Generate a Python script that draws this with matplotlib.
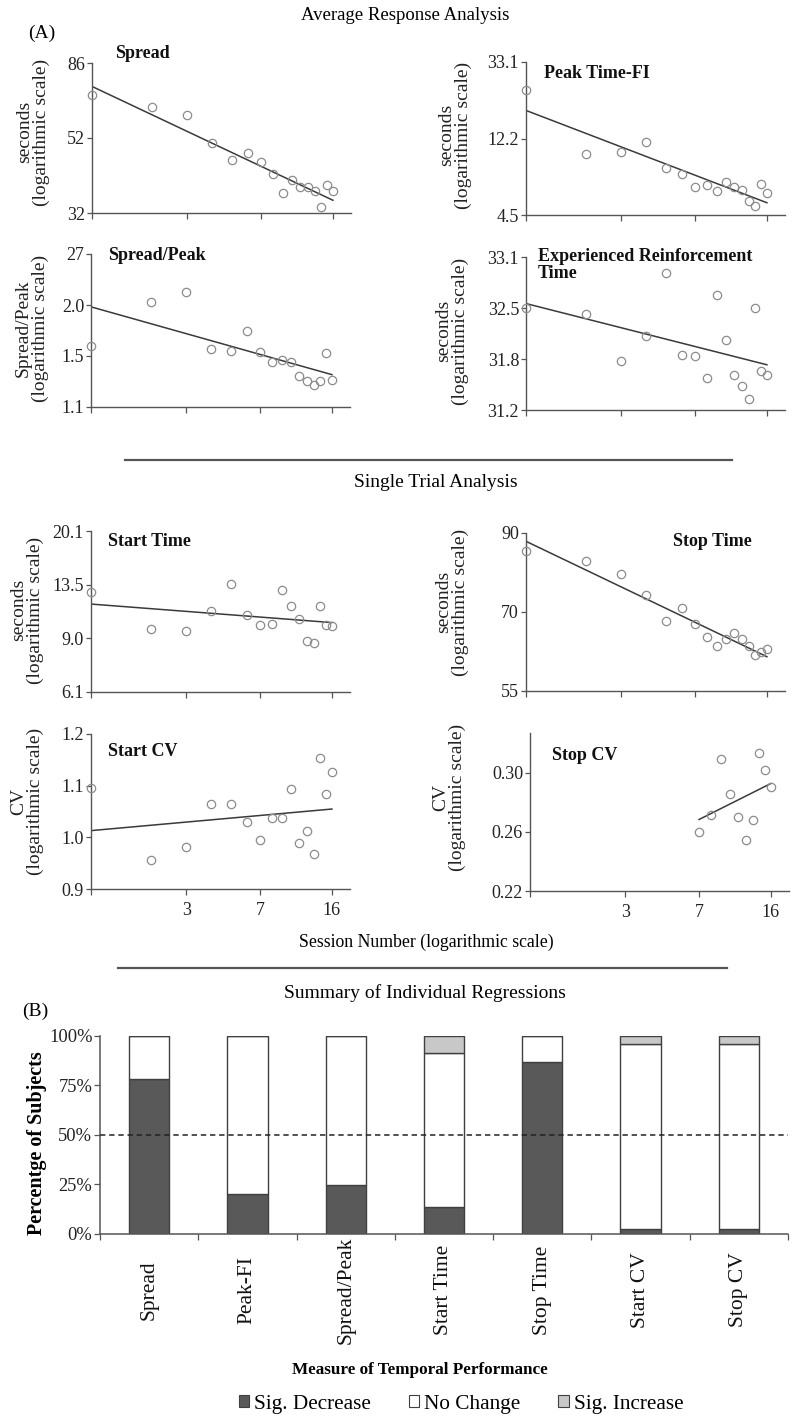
import numpy as np
import matplotlib
matplotlib.use('Agg')
import matplotlib.pyplot as plt
from matplotlib import transforms
from matplotlib.lines import Line2D
from matplotlib.patches import Patch

plt.rcParams['font.family'] = ['Liberation Serif', 'DejaVu Serif']

W, H = 800, 1423

# --- values ---
sessions = list(range(1, 17))
stop_cv_sessions = list(range(7, 17))

spread = [69.8, 64.2, 61.2, 50.8, 45.5, 47.5, 44.7, 41.4, 36.5, 39.7, 37.9, 38.1, 37.1, 33.4, 38.6, 36.9]
peak_fi = [23.1, 9.95, 10.3, 11.7, 8.26, 7.64, 6.5, 6.62, 6.18, 6.94, 6.5, 6.23, 5.4, 5.08, 6.71, 5.97]
spread_peak = [1.57, 2.04, 2.16, 1.55, 1.53, 1.72, 1.52, 1.43, 1.45, 1.43, 1.32, 1.28, 1.25, 1.28, 1.51, 1.29]
exp_reinf = [32.45, 32.38, 31.80, 32.11, 32.89, 31.87, 31.86, 31.59, 32.62, 32.06, 31.62, 31.49, 31.33, 32.46, 31.67, 31.62]
start_time = [12.8, 9.75, 9.58, 11.14, 13.6, 10.8, 10.0, 10.1, 12.95, 11.5, 10.5, 8.9, 8.79, 11.56, 10.0, 9.92]
stop_time = [85.0, 82.5, 79.3, 74.1, 68.5, 71.3, 67.8, 65.1, 63.3, 64.6, 65.8, 64.6, 63.3, 61.5, 62.2, 62.6]
start_cv = [1.085, 0.950, 0.973, 1.054, 1.053, 1.020, 0.986, 1.026, 1.026, 1.083, 0.980, 1.002, 0.961, 1.147, 1.073, 1.119]
stop_cv = [0.2565, 0.2682, 0.311, 0.2834, 0.2668, 0.2513, 0.2651, 0.316, 0.302, 0.2889]

# regression line end values (first session, last session)
spread_fit = [73.7, 34.8]
peak_fi_fit = [17.6, 5.28]
spread_peak_fit = [1.98, 1.33]
exp_reinf_fit = [32.51, 31.75]
start_time_fit = [11.7, 10.2]
stop_time_fit = [87.7, 61.2]
start_cv_fit = [1.003, 1.044]
stop_cv_fit = [0.2654, 0.2917]

# y tick labels (ticks evenly spaced on the log axis)
spread_ticks = ['32', '52', '86']
peak_fi_ticks = ['4.5', '12.2', '33.1']
spread_peak_ticks = ['1.1', '1.5', '2.0', '27']
exp_reinf_ticks = ['31.2', '31.8', '32.5', '33.1']
start_time_ticks = ['6.1', '9.0', '13.5', '20.1']
stop_time_ticks = ['55', '70', '90']
start_cv_ticks = ['0.9', '1.0', '1.1', '1.2']
stop_cv_ticks = ['0.22', '0.26', '0.30']

session_ticks = [1, 3, 7, 16]
session_labels = ['', '3', '7', '16']

measures = ['Spread', 'Peak-FI', 'Spread/Peak', 'Start Time', 'Stop Time', 'Start CV', 'Stop CV']
sig_decrease = [78.0, 20.0, 24.7, 13.4, 86.7, 2.7, 2.7]
no_change = [22.0, 80.0, 75.3, 78.0, 13.3, 93.1, 93.1]
sig_increase = [0.0, 0.0, 0.0, 8.6, 0.0, 4.2, 4.2]

AX_COL = '#555555'
PT_COL = '#8c8c8c'
LINE_COL = '#3a3a3a'


def fx(x):
    return x / W


def fy(y):
    return 1 - y / H


def px_axes(fig, left, top, right, bottom):
    return fig.add_axes([left / W, 1 - bottom / H, (right - left) / W, (bottom - top) / H])


def scatter_panel(fig, box, xs, ys, fit_x, fit_y, ylo, yhi, tick_labels, tick_top=None,
                  title='', title_xy=(0, 0), ylabel='', ylabel_xy=(0, 0), title_va='center',
                  show_x=False):
    left, top, bottom = box
    ax = px_axes(fig, left, top, left + 259, bottom)
    ax.set_xscale('log')
    ax.set_yscale('log')
    ax.set_xlim(1, 19.7)
    ax.set_ylim(ylo, yhi)
    ax.plot(fit_x, fit_y, color=LINE_COL, lw=1.1, zorder=2)
    ax.plot(xs, ys, 'o', ms=6, mfc='none', mec=PT_COL, mew=0.9, zorder=3, clip_on=False)

    t_hi = yhi if tick_top is None else tick_top
    yt = np.geomspace(ylo, t_hi, len(tick_labels))
    ax.yaxis.set_major_locator(matplotlib.ticker.FixedLocator(yt))
    ax.yaxis.set_minor_locator(matplotlib.ticker.NullLocator())
    ax.set_yticklabels(tick_labels)
    ax.xaxis.set_major_locator(matplotlib.ticker.FixedLocator(session_ticks))
    ax.xaxis.set_minor_locator(matplotlib.ticker.NullLocator())
    ax.set_xticklabels(session_labels if show_x else [''] * len(session_ticks))

    for s in ['top', 'right']:
        ax.spines[s].set_visible(False)
    for s in ['left', 'bottom']:
        ax.spines[s].set_color(AX_COL)
        ax.spines[s].set_linewidth(1.0)
    ax.tick_params(axis='y', direction='out', length=3.5, width=0.9, color=AX_COL,
                   labelsize=13, pad=1.5, labelcolor='#222222')
    ax.tick_params(axis='x', direction='out', length=4.5, width=0.9, color=AX_COL,
                   labelsize=13, pad=5, labelcolor='#222222')
    ax.patch.set_alpha(0)

    fig.text(fx(title_xy[0]), fy(title_xy[1]), title, fontsize=13, fontweight='bold',
             ha='left', va=title_va, linespacing=1.0, color='#111111')
    fig.text(fx(ylabel_xy[0]), fy(ylabel_xy[1]), ylabel, fontsize=14, rotation=90,
             ha='center', va='center', multialignment='center', linespacing=0.95,
             color='#222222')
    return ax


fig = plt.figure(figsize=(W / 100, H / 100), dpi=100)

# --- (A) Average Response Analysis ---
fig.text(fx(405), fy(15), 'Average Response Analysis', fontsize=13.5, ha='center', va='center')
fig.text(fx(42), fy(33), '(A)', fontsize=14, ha='center', va='center')

sec_label = 'seconds\n(logarithmic scale)'
scatter_panel(fig, (92, 63, 213), sessions, spread, [1, 16], spread_fit, 32, 86, spread_ticks,
              title='Spread', title_xy=(115, 53), ylabel=sec_label, ylabel_xy=(33, 132))
scatter_panel(fig, (526, 62, 215), sessions, peak_fi, [1, 16], peak_fi_fit, 4.5, 33.1, peak_fi_ticks,
              title='Peak Time-FI', title_xy=(544, 73), ylabel=sec_label, ylabel_xy=(455, 135))
scatter_panel(fig, (91, 254, 407), sessions, spread_peak, [1, 16], spread_peak_fit, 1.1, 2.7,
              spread_peak_ticks, title='Spread/Peak', title_xy=(108, 255),
              ylabel='Spread/Peak\n(logarithmic scale)', ylabel_xy=(32, 328))
scatter_panel(fig, (526, 257, 410), sessions, exp_reinf, [1, 16], exp_reinf_fit, 31.2, 33.1,
              exp_reinf_ticks, title='Experienced Reinforcement\nTime', title_xy=(538, 265),
              ylabel=sec_label, ylabel_xy=(452, 331))

fig.add_artist(Line2D([fx(125), fx(732)], [fy(460), fy(460)], color=AX_COL, lw=1.6))
fig.text(fx(436), fy(482), 'Single Trial Analysis', fontsize=14, ha='center', va='center')

# --- Single Trial Analysis ---
scatter_panel(fig, (91, 531, 692), sessions, start_time, [1, 16], start_time_fit, 6.1, 20.1,
              start_time_ticks, title='Start Time', title_xy=(108, 542),
              ylabel=sec_label, ylabel_xy=(27, 610))
scatter_panel(fig, (526, 533, 691), sessions, stop_time, [1, 16], stop_time_fit, 55, 90,
              stop_time_ticks, title='Stop Time', title_xy=(673, 542),
              ylabel=sec_label, ylabel_xy=(452, 602))
scatter_panel(fig, (91, 734, 889), sessions, start_cv, [1, 16], start_cv_fit, 0.9, 1.2,
              start_cv_ticks, title='Start CV', title_xy=(108, 752),
              ylabel='CV\n(logarithmic scale)', ylabel_xy=(27, 801), show_x=True)
scatter_panel(fig, (530, 733, 891), stop_cv_sessions, stop_cv, [7, 16], stop_cv_fit, 0.22, 0.333,
              stop_cv_ticks, tick_top=0.30, title='Stop CV', title_xy=(552, 756),
              ylabel='CV\n(logarithmic scale)', ylabel_xy=(449, 797), show_x=True)

fig.text(fx(426), fy(942), 'Session Number (logarithmic scale)', fontsize=12.8,
         ha='center', va='center')
fig.add_artist(Line2D([fx(118), fx(727)], [fy(968), fy(968)], color=AX_COL, lw=1.6))
fig.text(fx(425), fy(993), 'Summary of Individual Regressions', fontsize=14,
         ha='center', va='center')
fig.text(fx(35), fy(1011), '(B)', fontsize=14, ha='center', va='center')

# --- (B) stacked bars ---
ax = px_axes(fig, 100, 1035.7, 788, 1234)
xpos = np.arange(len(measures))
bw = 0.41
dec_col, nc_col, inc_col = '#595959', '#ffffff', '#c8c8c8'
edge = '#404040'
bottom_nc = np.array(sig_decrease)
bottom_inc = bottom_nc + np.array(no_change)
ax.bar(xpos, sig_decrease, bw, color=dec_col, edgecolor=edge, lw=1.0, zorder=2)
ax.bar(xpos, no_change, bw, bottom=bottom_nc, color=nc_col, edgecolor=edge, lw=1.0, zorder=2)
ax.bar(xpos, sig_increase, bw, bottom=bottom_inc, color=inc_col, edgecolor=edge, lw=1.0, zorder=2)
ax.axhline(50, color='#222222', lw=1.1, ls=(0, (3.5, 2.5)), zorder=3)

ax.set_xlim(-0.5, len(measures) - 0.5)
ax.set_ylim(0, 100)
ax.set_yticks([0, 25, 50, 75, 100])
ax.set_yticklabels(['0%', '25%', '50%', '75%', '100%'])
ax.set_xticks(np.arange(len(measures) + 1) - 0.5)
ax.set_xticklabels([])
for s in ['top', 'right']:
    ax.spines[s].set_visible(False)
for s in ['left', 'bottom']:
    ax.spines[s].set_color(AX_COL)
    ax.spines[s].set_linewidth(1.1)
ax.tick_params(axis='y', direction='out', length=4, width=0.9, color=AX_COL, labelsize=13.3,
               pad=1.5, labelcolor='#222222')
ax.tick_params(axis='x', direction='out', length=4.5, width=0.9, color=AX_COL)

trans = transforms.blended_transform_factory(ax.transData, ax.transAxes)
for i, m in enumerate(measures):
    ax.text(xpos[i], -(1290 - 1234) / 198.3, m, rotation=90, ha='center', va='center',
            fontsize=15.5, transform=trans, color='#111111')

fig.text(fx(37), fy(1143), 'Percentge of Subjects', rotation=90, fontsize=14.5,
         fontweight='bold', ha='center', va='center')
fig.text(fx(420), fy(1370), 'Measure of Temporal Performance', fontsize=12.3,
         fontweight='bold', ha='center', va='center')

handles = [Patch(facecolor=dec_col, edgecolor=edge, lw=0.8, label='Sig. Decrease'),
           Patch(facecolor=nc_col, edgecolor=edge, lw=0.8, label='No Change'),
           Patch(facecolor=inc_col, edgecolor=edge, lw=0.8, label='Sig. Increase')]
fig.legend(handles=handles, loc='center', bbox_to_anchor=(fx(461), fy(1404)), ncol=3,
           frameon=False, fontsize=15.3, handlelength=0.5, handleheight=0.55,
           handletextpad=0.25, columnspacing=1.75, borderpad=0)

fig.savefig('out.png', dpi=100)
